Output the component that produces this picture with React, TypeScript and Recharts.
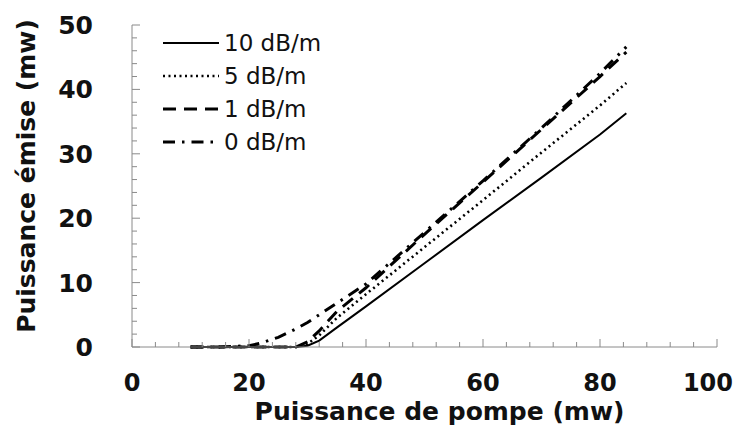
import { Legend, Line, LineChart, XAxis, YAxis } from 'recharts';

const pompe = [10, 15, 20, 22, 25, 28, 30, 32, 35, 40, 50, 60, 70, 80, 84.5];
const db10 = [0, 0, 0, 0, 0, 0, 0.2, 1, 3, 6.3, 13, 19.7, 26.3, 33, 36.3];
const db5 = [0, 0, 0, 0, 0, 0, 0.5, 1.8, 4.5, 8.2, 15.5, 22.8, 30.2, 37.5, 41];
const db1 = [0, 0, 0, 0, 0, 0, 0.8, 2.5, 5.5, 9.2, 17.5, 25.6, 33.8, 42, 45.8];
const db0 = [0, 0, 0.2, 0.6, 1.5, 2.8, 3.8, 5, 6.8, 9.8, 17.8, 25.8, 34, 42.5, 46.6];

const xTicks = Array.from({ length: 26 }, (_, i) => i * 4);
const yTicks = Array.from({ length: 26 }, (_, i) => i * 2);

const data = pompe.map((p, i) => ({ p, db10: db10[i], db5: db5[i], db1: db1[i], db0: db0[i] }));

const series = [
    { key: 'db10', name: '10 dB/m', dash: undefined, width: 2 },
    { key: 'db5', name: '5 dB/m', dash: '2 3.5', width: 2.6 },
    { key: 'db1', name: '1 dB/m', dash: '13 8', width: 3 },
    { key: 'db0', name: '0 dB/m', dash: '12 7 2.5 7', width: 3 },
];

const axisGrey = '#8a8a8a';
const font = '"DejaVu Sans", sans-serif';

const XTick = (props: any) => {
    const { x, y, payload } = props;
    const v = payload.value;
    const major = v % 20 === 0;
    // keep "100" inside the picture
    const last = v === 100;
    return (
        <g>
            <line x1={x} x2={x} y1={y} y2={y - (major ? 8 : 5)} stroke={axisGrey} />
            {major && (
                <text
                    x={last ? 733 : x}
                    y={y + 44}
                    textAnchor={last ? 'end' : 'middle'}
                    fontFamily={font}
                    fontWeight="bold"
                    fontSize={24}
                    fill="#111"
                >
                    {v}
                </text>
            )}
        </g>
    );
};

const YTick = (props: any) => {
    const { x, y, payload } = props;
    const v = payload.value;
    const major = v % 10 === 0;
    return (
        <g>
            <line x1={x} x2={x + (major ? 8 : 5)} y1={y} y2={y} stroke={axisGrey} />
            {major && (
                <text x={x - 39} y={y + 9} textAnchor="end" fontFamily={font} fontWeight="bold" fontSize={25} fill="#111">
                    {v}
                </text>
            )}
        </g>
    );
};

const XLabel = (props: any) => {
    const { x, y, width } = props.viewBox;
    return (
        <text x={x + width / 2 + 15} y={y + 73} textAnchor="middle" fontFamily={font} fontWeight="bold" fontSize={25} fill="#111">
            Puissance de pompe (mw)
        </text>
    );
};

const YLabel = (props: any) => {
    const { y, height } = props.viewBox;
    const cy = y + height / 2 - 10;
    return (
        <text x={35} y={cy} transform={`rotate(-90, 35, ${cy})`} textAnchor="middle" fontFamily={font} fontWeight="bold" fontSize={25} fill="#111">
            Puissance émise (mw)
        </text>
    );
};

const LegendBox = () => (
    <div style={{ fontFamily: font, fontSize: 23, color: '#111' }}>
        {series.map((s) => (
            <div key={s.key} style={{ display: 'flex', alignItems: 'center', height: 33 }}>
                <svg width={58} height={10}>
                    <line x1={1} x2={57} y1={5} y2={5} stroke="#000" strokeWidth={s.width} strokeDasharray={s.dash} />
                </svg>
                <span style={{ marginLeft: 4 }}>{s.name}</span>
            </div>
        ))}
    </div>
);

export default function App() {
    return (
        <div>
            <style>{'body{margin:0}'}</style>
            <LineChart width={735} height={437} data={data} margin={{ top: 25, right: 18, left: 72, bottom: 12 }}>
                <XAxis
                    dataKey="p"
                    type="number"
                    domain={[0, 100]}
                    ticks={xTicks}
                    interval={0}
                    tickSize={0}
                    tickMargin={0}
                    tickLine={false}
                    axisLine={{ stroke: axisGrey }}
                    tick={XTick}
                    height={78}
                    label={{ content: XLabel }}
                />
                <YAxis
                    type="number"
                    domain={[0, 50]}
                    ticks={yTicks}
                    interval={0}
                    tickSize={0}
                    tickMargin={0}
                    tickLine={false}
                    axisLine={{ stroke: axisGrey }}
                    tick={YTick}
                    width={60}
                    label={{ content: YLabel }}
                />
                <Legend
                    content={LegendBox}
                    layout="vertical"
                    verticalAlign="middle"
                    align="center"
                    wrapperStyle={{ left: 162, top: 26, width: 220 }}
                />
                {series.map((s) => (
                    <Line
                        key={s.key}
                        type="linear"
                        dataKey={s.key}
                        name={s.name}
                        stroke="#000"
                        strokeWidth={s.width}
                        strokeDasharray={s.dash}
                        dot={false}
                        isAnimationActive={false}
                    />
                ))}
            </LineChart>
        </div>
    );
}
